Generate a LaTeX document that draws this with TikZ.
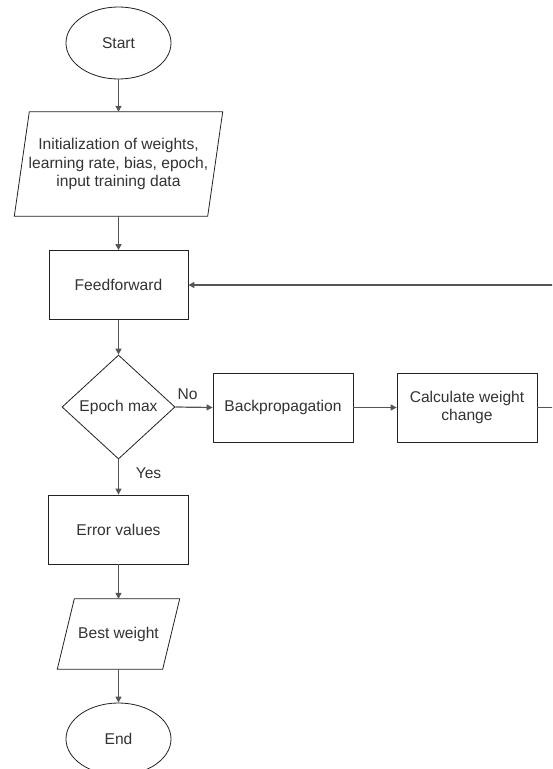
\documentclass[tikz,border=0pt]{standalone}
\usepackage{fontspec}
\setmainfont{Liberation Sans}
\usetikzlibrary{shapes.geometric,arrows.meta,calc}
\definecolor{txt}{HTML}{333333}
\definecolor{edge}{HTML}{555555}
\definecolor{outl}{HTML}{222222}
\begin{document}
\begin{tikzpicture}[x=1pt,y=-1pt,
  every node/.style={font=\fontsize{15.6}{18.5}\selectfont, text=txt, align=center, inner sep=0pt},
  termbox/.style={ellipse, draw=outl, line width=0.8pt, fill=white, minimum width=105pt, minimum height=72pt},
  procbox/.style={rectangle, draw=outl, line width=0.8pt, fill=white, minimum width=139pt, minimum height=69pt},
  iobox/.style={rectangle, minimum height=#1},
  decbox/.style={diamond, draw=outl, line width=0.8pt, fill=white, minimum width=113pt, minimum height=104pt},
  conn/.style={draw=edge, line width=1.2pt, -{Triangle[length=6pt,width=6pt]}},
  plain/.style={draw=edge, line width=1.2pt},
  lbl/.style={font=\fontsize{15.6}{18.5}\selectfont}
]
\clip (0,0) rectangle (552,769);
\fill[white] (0,0) rectangle (552,769);

\node[termbox] (start) at (118.5,43) {Start};

\node[iobox=104pt, minimum width=208pt] (init) at (118.5,164) {};
\draw[outl, line width=0.8pt] ($(init.north west)+(15,0)$) -- (init.north east) -- ($(init.south east)+(-15,0)$) -- (init.south west) -- cycle;
\node (inittext) at (init) {Initialization of weights,\\learning rate, bias, epoch,\\input training data};

\node[procbox] (ff) at (118.5,285) {Feedforward};
\node[decbox] (dec) at (118.5,407) {Epoch max};
\node[procbox, minimum width=140pt] (bp) at (283,407.5) {Backpropagation};
\node[procbox, minimum width=140pt] (cw) at (467,407.5) {Calculate weight\\change};
\node[procbox, minimum width=140pt] (err) at (118.5,529.5) {Error values};

\node[iobox=70pt, minimum width=122pt] (best) at (118.5,634) {};
\draw[outl, line width=0.8pt] ($(best.north west)+(17,0)$) -- (best.north east) -- ($(best.south east)+(-17,0)$) -- (best.south west) -- cycle;
\node (besttext) at (best) {Best weight};

\node[termbox] (end) at (118.5,739) {End};

\coordinate (r1) at (562,407.5);
\coordinate (r2) at (562,285);

\draw[conn] (start) -- (start |- init.north);
\draw[conn] (init.south) -- (ff.north);
\draw[conn] (ff.south) -- (dec.north);
\draw[conn] (dec.east) -- (bp.west);
\draw[conn] (bp.east) -- (cw.west);
\draw[conn] (dec.south) -- (err.north);
\draw[conn] (err.south) -- (best.north);
\draw[conn] (best.south) -- (end.north);
\draw[plain] (cw.east) -- (r1) -- (r2);
\draw[conn] (r2) -- (ff.east);

\node[lbl] (no) at (187.5,394) {No};
\node[lbl] (yes) at (148.5,473) {Yes};
\end{tikzpicture}
\end{document}
